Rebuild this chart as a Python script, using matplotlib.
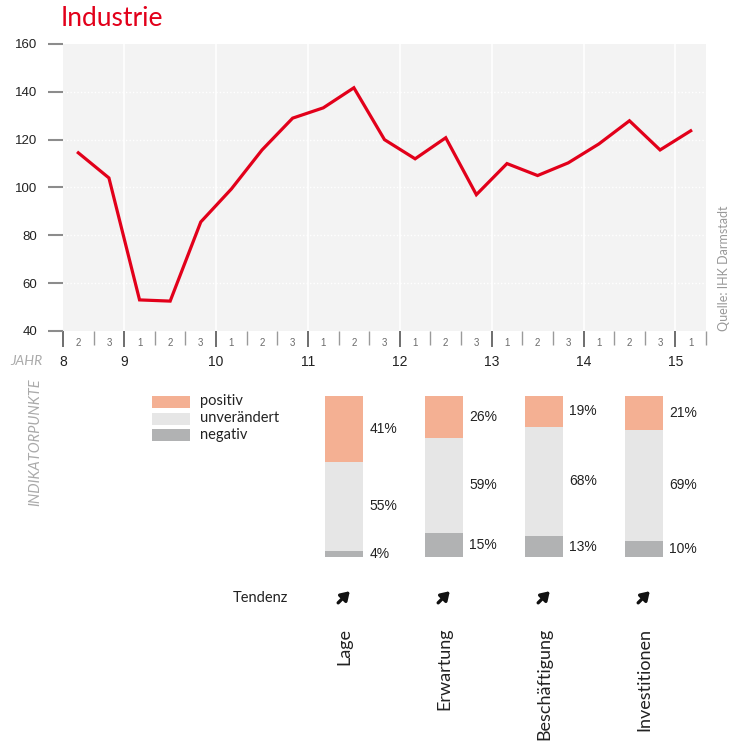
import matplotlib
matplotlib.use("Agg")
import matplotlib.pyplot as plt
from matplotlib.patches import Rectangle
from matplotlib.transforms import blended_transform_factory, offset_copy

# Data ------------------------------------------------------------------
# index values per survey period (3 per year), 2008/2 .. 2015/1
period_labels = ["2", "3"] + ["1", "2", "3"] * 6 + ["1"]
index_values = [114.5, 104, 53, 52.5, 85.6, 99.4, 115.7, 129, 133.3, 141.7,
                120, 112, 120.8, 97, 110, 105, 110.3, 118.2, 127.9, 115.7, 123.7]
year_labels = ["8", "9", "10", "11", "12", "13", "14", "15"]
year_starts = [0, 2, 5, 8, 11, 14, 17, 20]   # period boundary where each year starts
y_ticks = [40, 60, 80, 100, 120, 140, 160]

categories = ["Lage", "Erwartung", "Beschäftigung", "Investitionen"]
positiv = [41, 26, 19, 21]
unveraendert = [55, 59, 68, 69]
negativ = [4, 15, 13, 10]

# Styles ----------------------------------------------------------------
RED = "#e2001a"
C_POS = "#f4b093"
C_UNV = "#e6e6e6"
C_NEG = "#b1b2b3"
BG = "#f3f3f3"
TXT = "#222222"
FONT = "Lato"
NUMFONT = "Liberation Sans"

W, H = 731, 744
fig = plt.figure(figsize=(W / 100, H / 100), dpi=100)


def fx(px):
    return px / W


def fy(py):
    return 1 - py / H


# Line chart ------------------------------------------------------------
ax = fig.add_axes([fx(63), fy(331), fx(706) - fx(63), fy(44) - fy(331)])
ax.set_facecolor(BG)
n = len(index_values)
xs = [i + 0.5 for i in range(n)]
ax.set_xlim(0, n)
ax.set_ylim(40, 160)

for y in y_ticks[1:-1]:
    ax.axhline(y, color="white", lw=1, ls=(0, (1, 1.5)), zorder=1)
for xb in year_starts[1:]:
    ax.axvline(xb, color="white", lw=1.2, zorder=1)

ax.plot(xs, index_values, color=RED, lw=2.3, solid_joinstyle="miter", zorder=3)

for s in ax.spines.values():
    s.set_visible(False)

ax.set_yticks(y_ticks)
ax.set_yticklabels([str(v) for v in y_ticks], fontsize=9.5, color=TXT, family=NUMFONT)
ax.tick_params(axis="y", length=11, width=1.5, color="#8c8c8c", pad=7.5)

# bottom ticks: year ticks (major) and period ticks (minor)
ax.set_xticks(year_starts)
ax.set_xticklabels(year_labels, fontsize=10, color=TXT, family=NUMFONT)
ax.set_xticks([i for i in range(n + 1) if i not in year_starts], minor=True)
ax.tick_params(axis="x", which="major", direction="out", length=11.5, width=1.4,
               color="#6e6e6e", pad=6)
ax.tick_params(axis="x", which="minor", direction="out", length=10, width=1.0,
               color="#9a9a9a")

trans_q = blended_transform_factory(ax.transData, ax.transAxes)
for i, lab in enumerate(period_labels):
    ax.text(i + 0.5, -0.043, lab, transform=trans_q, ha="center", va="center",
            fontsize=7, color="#6a6a6a", family=NUMFONT)

fig.text(fx(43), fy(361), "JAHR", ha="right", va="center", fontsize=10,
         style="italic", color="#aaaaaa", family=FONT)
fig.text(fx(35), fy(378), "INDIKATORPUNKTE", ha="center", va="top", rotation=90,
         fontsize=10.5, style="italic", color="#aaaaaa", family=FONT)

fig.text(fx(61), fy(19), "Industrie", ha="left", va="center", fontsize=19,
         color=RED, family=FONT)
fig.text(fx(724), fy(331), "Quelle: IHK Darmstadt", ha="center", va="bottom",
         rotation=90, fontsize=9, color="#999999", family=FONT)

# Stacked bars ----------------------------------------------------------
bx = fig.add_axes([fx(294), fy(557), fx(694) - fx(294), fy(396) - fy(557)])
bx.set_xlim(-0.5, len(categories) - 0.5)
bx.set_ylim(0, 100)
bx.axis("off")
pos = list(range(len(categories)))
bw = 0.38
bx.bar(pos, negativ, width=bw, color=C_NEG, lw=0)
bx.bar(pos, unveraendert, width=bw, bottom=negativ, color=C_UNV, lw=0)
bot2 = [a + b for a, b in zip(negativ, unveraendert)]
bx.bar(pos, positiv, width=bw, bottom=bot2, color=C_POS, lw=0)

for i in pos:
    segs = [(negativ[i], 0), (unveraendert[i], negativ[i]), (positiv[i], bot2[i])]
    for val, b in segs:
        bx.annotate(f"{val}%", (i + bw / 2, b + val / 2), xytext=(4.5, 0),
                    textcoords="offset points", ha="left", va="center",
                    fontsize=10, color=TXT, family=NUMFONT)

# legend
leg = [("positiv", C_POS), ("unverändert", C_UNV), ("negativ", C_NEG)]
for k, (lab, col) in enumerate(leg):
    top = 396 + k * 16.5
    fig.patches.append(Rectangle((fx(152), fy(top + 12)), fx(190) - fx(152),
                                 fy(top) - fy(top + 12), color=col, lw=0,
                                 transform=fig.transFigure, figure=fig))
    fig.text(fx(200), fy(top + 5.5), lab, ha="left", va="center", fontsize=10.5,
             color=TXT, family=FONT)

# Tendenz row (all rising) and category labels
trans_b = blended_transform_factory(bx.transData, fig.transFigure)
head_t = offset_copy(trans_b, fig=fig, x=4.2, y=4.2, units="points")
tail_t = offset_copy(trans_b, fig=fig, x=-4.2, y=-4.2, units="points")
fig.text(fx(288), fy(598), "Tendenz", ha="right", va="center", fontsize=10.5,
         color=TXT, family=FONT)
for i, cat in enumerate(categories):
    bx.annotate("", xy=(i, fy(597)), xycoords=head_t,
                xytext=(i, fy(597)), textcoords=tail_t, annotation_clip=False,
                arrowprops=dict(arrowstyle="-|>,head_length=0.5,head_width=0.32",
                                color="#111111", lw=2.4, shrinkA=0, shrinkB=0))
    bx.text(i, fy(628), cat, transform=trans_b, ha="center", va="top",
            rotation=90, fontsize=13, color=TXT, family=FONT, clip_on=False)

fig.savefig("out.png", dpi=100)
